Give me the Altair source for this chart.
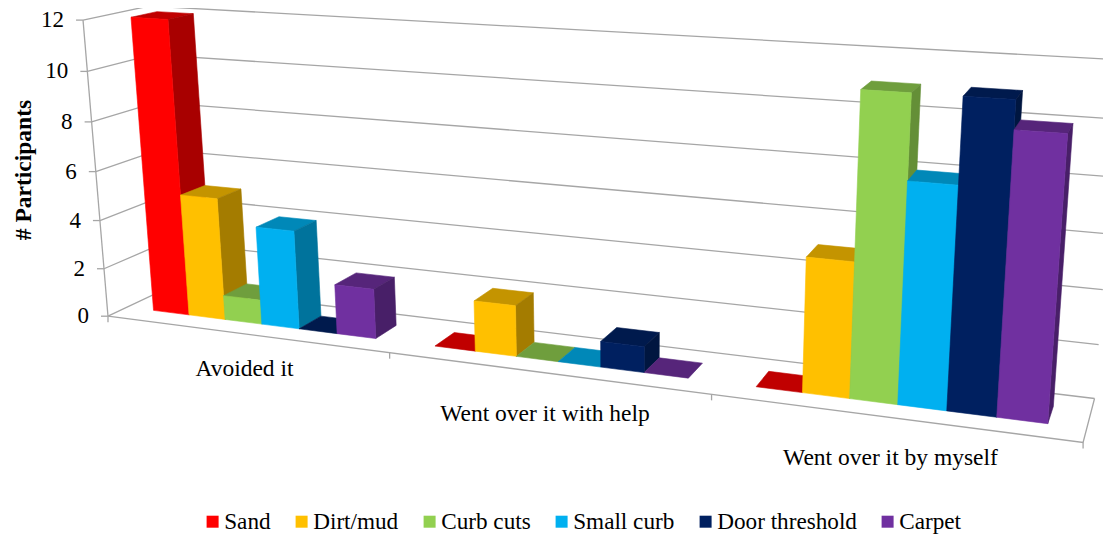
import numpy as np
import pandas as pd
import altair as alt

categories = ["Avoided it", "Went over it with help", "Went over it by myself"]
series = ["Sand", "Dirt/mud", "Curb cuts", "Small curb", "Door threshold", "Carpet"]
avoided = [12, 5, 1, 4, 0, 2]
with_help = [0, 2, 0, 0, 1, 0]
by_myself = [0, 5, 11, 8, 11, 10]
y_ticks = [0, 2, 4, 6, 8, 10, 12]
front_colors = ["#FF0000", "#FFC000", "#92D050", "#00B0F0", "#002060", "#7030A0"]
top_colors = ["#C00000", "#C49400", "#6F9E3D", "#0088B8", "#001A4D", "#56257A"]
side_colors = ["#A80000", "#A47C00", "#648F37", "#00739C", "#001640", "#481F68"]

# Camera calibration for the oblique 3D view: (u, v, height) -> picture position
cal = [
    (0, 0, 0, 108, 316), (0, 0, 2, 104, 269), (0, 0, 4, 100, 220), (0, 0, 6, 96, 171),
    (0, 0, 8, 92, 122), (0, 0, 10, 87, 72), (0, 0, 12, 83, 20),
    (0, 1, 12, 149, 6), (0, 1, 0, 170, 287),
    (1, 1, 0, 1094, 398), (1, 1, 2, 1099, 345), (1, 1, 4, 1103, 290), (1, 1, 6, 1107, 234),
    (1, 1, 8, 1111.5, 176), (1, 1, 10, 1116, 118), (1, 1, 12, 1120, 61),
    (1, 0, 0, 1083, 442), (1 / 3, 0, 0, 389, 353), (2 / 3, 0, 0, 712, 395),
]
A = []
for u, v, h, px, py in cal:
    A.append([u, v, h, 1, 0, 0, 0, 0, -px * u, -px * v, -px * h, -px])
    A.append([0, 0, 0, 0, u, v, h, 1, -py * u, -py * v, -py * h, -py])
CAM = np.linalg.svd(np.array(A, float))[2][-1].reshape(3, 4)


def proj(u, v, h):
    p = CAM @ np.array([u, v, h, 1.0])
    return float(p[0] / p[2]), float(p[1] / p[2])


GAP = 1.5
V0, V1 = 0.3, 0.7

faces = []
fid = 0


def add_face(pts, col):
    global fid
    for i, (u, v, h) in enumerate(pts + pts[:1]):
        x, y = proj(u, v, h)
        faces.append({"face": fid, "i": i, "x": x, "y": y, "col": col})
    fid += 1


for c, vals in enumerate([avoided, with_help, by_myself]):
    for s, val in enumerate(vals):
        u0 = (c + (GAP / 2 + s) / (6 + GAP)) / 3
        u1 = (c + (GAP / 2 + s + 1) / (6 + GAP)) / 3
        add_face([(u0, V0, val), (u1, V0, val), (u1, V1, val), (u0, V1, val)], top_colors[s])
        if val > 0:
            add_face([(u1, V0, 0), (u1, V1, 0), (u1, V1, val), (u1, V0, val)], side_colors[s])
            add_face([(u0, V0, 0), (u1, V0, 0), (u1, V0, val), (u0, V0, val)], front_colors[s])

lines = []
lid = 0


def add_line(pts):
    global lid
    for i, (x, y) in enumerate(pts):
        lines.append({"line": lid, "i": i, "x": x, "y": y})
    lid += 1


for t in y_ticks:
    add_line([proj(0, 0, t), proj(0, 1, t), proj(1, 1, t)])
    fx, fy = proj(0, 0, t)
    add_line([(fx - 7, fy), (fx, fy)])
add_line([proj(0, 0, 0), proj(0, 0, 12)])
add_line([proj(0, 0, 0), proj(1, 0, 0), proj(1, 1, 0)])
for k in range(4):
    fx, fy = proj(k / 3, 0, 0)
    add_line([(fx, fy), (fx, fy + 6)])

ylab = []
for t in y_ticks:
    fx, fy = proj(0, 0, t)
    ylab.append({"x": fx - 19, "y": fy, "t": str(t)})

catlab = [
    {"x": 244.5, "y": 369, "t": categories[0]},
    {"x": 545, "y": 414, "t": categories[1]},
    {"x": 890.5, "y": 458, "t": categories[2]},
]

X = alt.X("x:Q", scale=alt.Scale(domain=[8, 1103], nice=False, zero=False), axis=None)
Y = alt.Y("y:Q", scale=alt.Scale(domain=[537, 8], nice=False, zero=False), axis=None)
FONT = "Liberation Serif"

grid = alt.Chart(pd.DataFrame(lines)).mark_line(color="#A6A6A6", strokeWidth=1.3, clip=True).encode(
    x=X, y=Y, detail="line:N", order="i:Q")
bars = alt.Chart(pd.DataFrame(faces)).mark_line(strokeWidth=0.6, clip=True).encode(
    x=X, y=Y, detail="face:N", order="i:Q",
    fill=alt.Fill("col:N", scale=None), stroke=alt.Stroke("col:N", scale=None))
ytext = alt.Chart(pd.DataFrame(ylab)).mark_text(font=FONT, fontSize=23, align="right", baseline="middle", color="#000").encode(
    x=X, y=Y, text="t:N")
ctext = alt.Chart(pd.DataFrame(catlab)).mark_text(font=FONT, fontSize=23.5, align="center", baseline="middle", color="#000").encode(
    x=X, y=Y, text="t:N")
title = alt.Chart(pd.DataFrame([{"x": 24, "y": 170, "t": "# Participants"}])).mark_text(
    font=FONT, fontSize=23.5, fontWeight="bold", angle=270, align="center", baseline="middle", color="#000").encode(
    x=X, y=Y, text="t:N")
legend = alt.Chart(pd.DataFrame({"s": series, "x": [100] * 6, "y": [100] * 6})).mark_point(
    shape="square", filled=True, size=0).encode(
    x=X, y=Y,
    color=alt.Color("s:N", scale=alt.Scale(domain=series, range=front_colors), legend=alt.Legend(
        title=None, orient="none", legendX=193, legendY=502, direction="horizontal", columns=6,
        symbolType="square", symbolSize=144, symbolStrokeWidth=0, symbolOpacity=1, labelFont=FONT, labelFontSize=23.2,
        labelColor="#000", labelOffset=0, columnPadding=19, padding=0, labelLimit=300)))

chart = alt.layer(grid, bars, ytext, ctext, title, legend).properties(
    width=1095, height=529, padding=0, autosize=alt.AutoSizeParams(type="none")
).configure_view(stroke=None)
chart.save("out.html", embed_options={"renderer": "svg", "actions": False})
